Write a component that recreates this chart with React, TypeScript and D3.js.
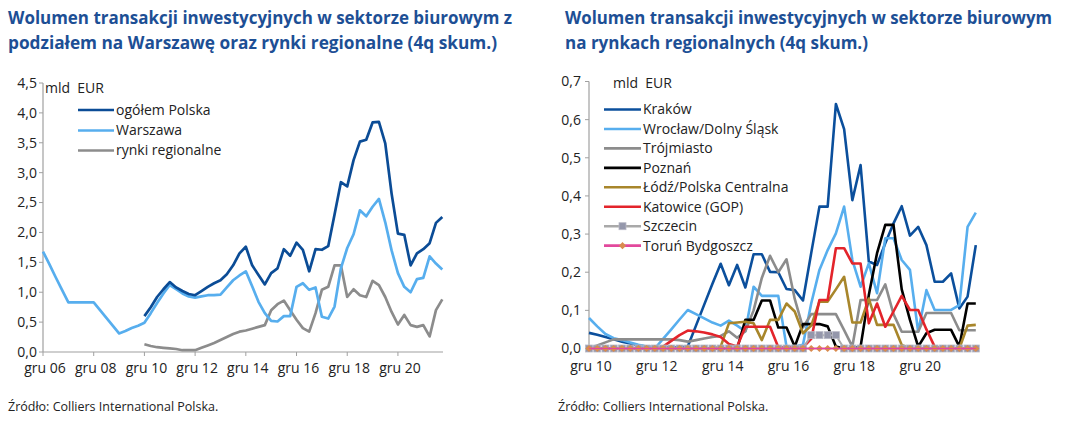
import React from "react";
import * as d3 from "d3";

// ---------- DATA ----------
const quarters = [
  "2006Q4",
  "2007Q1","2007Q2","2007Q3","2007Q4",
  "2008Q1","2008Q2","2008Q3","2008Q4",
  "2009Q1","2009Q2","2009Q3","2009Q4",
  "2010Q1","2010Q2","2010Q3","2010Q4",
  "2011Q1","2011Q2","2011Q3","2011Q4",
  "2012Q1","2012Q2","2012Q3","2012Q4",
  "2013Q1","2013Q2","2013Q3","2013Q4",
  "2014Q1","2014Q2","2014Q3","2014Q4",
  "2015Q1","2015Q2","2015Q3","2015Q4",
  "2016Q1","2016Q2","2016Q3","2016Q4",
  "2017Q1","2017Q2","2017Q3","2017Q4",
  "2018Q1","2018Q2","2018Q3","2018Q4",
  "2019Q1","2019Q2","2019Q3","2019Q4",
  "2020Q1","2020Q2","2020Q3","2020Q4",
  "2021Q1","2021Q2","2021Q3","2021Q4",
  "2022Q1","2022Q2","2022Q3",
];
const regionalQuarters = quarters.slice(16);

const leftTickQuarters = ["2006Q4","2008Q4","2010Q4","2012Q4","2014Q4","2016Q4","2018Q4","2020Q4"];
const leftTickLabels = ["gru 06","gru 08","gru 10","gru 12","gru 14","gru 16","gru 18","gru 20"];
const rightTickQuarters = ["2010Q4","2012Q4","2014Q4","2016Q4","2018Q4","2020Q4"];
const rightTickLabels = ["gru 10","gru 12","gru 14","gru 16","gru 18","gru 20"];
const leftYTicks = [0, 0.5, 1, 1.5, 2, 2.5, 3, 3.5, 4, 4.5];
const rightYTicks = [0, 0.1, 0.2, 0.3, 0.4, 0.5, 0.6, 0.7];

const N = null;
const polska = [
  N,N,N,N,N,N,N,N,N,N,N,N,N,N,N,N,
  0.60,0.75,0.92,1.05,1.17,1.08,1.02,0.97,0.95,1.02,1.09,1.15,1.20,1.30,1.45,1.65,
  1.76,1.45,1.29,1.13,1.32,1.40,1.72,1.61,1.83,1.71,1.35,1.72,1.71,1.77,2.30,2.84,
  2.77,3.21,3.52,3.55,3.84,3.85,3.49,2.65,1.98,1.96,1.45,1.65,1.72,1.82,2.16,2.26,
];
const warszawa = [
  1.68,1.47,1.25,1.04,0.83,0.83,0.83,0.83,0.83,0.70,0.57,0.44,0.31,0.35,0.40,0.44,
  0.49,0.65,0.82,0.98,1.12,1.05,0.98,0.93,0.91,0.93,0.95,0.95,0.96,1.08,1.20,1.28,
  1.35,1.10,0.84,0.65,0.52,0.51,0.60,0.60,1.09,1.15,1.04,1.08,0.59,0.56,0.76,1.40,
  1.74,1.97,2.37,2.27,2.43,2.56,2.17,1.70,1.32,1.09,1.00,1.22,1.24,1.60,1.48,1.38,
];
const regionalne = [
  N,N,N,N,N,N,N,N,N,N,N,N,N,N,N,N,
  0.13,0.10,0.08,0.07,0.06,0.05,0.03,0.03,0.03,0.07,0.11,0.15,0.20,0.25,0.30,0.34,
  0.36,0.39,0.42,0.45,0.70,0.80,0.86,0.70,0.54,0.40,0.34,0.65,1.04,1.09,1.45,1.45,
  0.92,1.05,0.95,0.92,1.19,1.12,0.92,0.67,0.46,0.62,0.45,0.42,0.45,0.26,0.70,0.88,
];

const krakow = [
  0.041,0.036,0.030,0.024,0.018,0.013,0.008,0.005,0.003,0.003,0.003,0.003,0.005,0.060,0.115,0.170,
  0.222,0.166,0.219,0.160,0.247,0.247,0.201,0.200,0.156,0.153,0.126,0.250,0.372,0.372,0.641,0.575,
  0.389,0.481,0.228,0.219,0.276,0.328,0.373,0.296,0.319,0.271,0.175,0.175,0.197,0.105,0.136,0.271,
];
const wroclaw = [
  0.080,0.058,0.038,0.027,0.022,0.016,0.010,0.005,0.000,0.025,0.050,0.076,0.101,0.090,0.079,0.068,
  0.060,0.073,0.060,0.045,0.162,0.138,0.138,0.138,0.005,0.005,0.010,0.118,0.206,0.258,0.302,0.372,
  0.232,0.162,0.223,0.145,0.289,0.289,0.232,0.206,0.044,0.153,0.101,0.101,0.101,0.114,0.319,0.356,
];
const trojmiasto = [
  0.000,0.008,0.016,0.024,0.024,0.024,0.024,0.024,0.024,0.024,0.024,0.022,0.018,0.022,0.026,0.030,
  0.033,0.045,0.028,0.045,0.100,0.185,0.243,0.200,0.234,0.130,0.055,0.090,0.090,0.090,0.090,0.048,
  0.005,0.127,0.127,0.127,0.168,0.090,0.044,0.044,0.044,0.093,0.093,0.093,0.093,0.048,0.048,0.048,
];
const poznan = [
  0,0,0,0,0,0,0,0,0,0,0,0,0,0,0,0,
  0,0,0,0.075,0.075,0.126,0.126,0.055,0.055,0.005,0.064,0.064,0.064,0.058,0.005,0,
  0,0.005,0.140,0.250,0.324,0.324,0.155,0.075,0.005,0.040,0.049,0.049,0.049,0.005,0.118,0.118,
];
const lodz = [
  0,0,0,0,0,0,0,0,0,0,0,0,0,0,0,0,
  0.005,0.066,0.068,0.070,0.066,0.022,0.075,0.075,0.118,0.097,0.040,0.060,0.123,0.123,0.155,0.188,
  0.068,0.068,0.131,0.062,0.062,0.062,0.009,0,0,0,0,0,0,0,0.060,0.062,
];
const katowice = [
  0,0,0,0,0,0,0,0,0,0.005,0.020,0.035,0.047,0.045,0.042,0.037,
  0.030,0.012,0.005,0.057,0.057,0.057,0.057,0.003,0.003,0.003,0.003,0.025,0.127,0.127,0.263,0.263,
  0.223,0.223,0.066,0.118,0.057,0.097,0.138,0.101,0.101,0.050,0.005,0,0,0,0,0,
];
const szczecin = [
  0,0,0,0,0,0,0,0,0,0,0,0,0,0,0,0,
  0,0,0,0,0,0,0,0,0,0,0,0.035,0.035,0.035,0.035,0,
  0,0,0,0,0,0,0,0,0,0,0,0,0,0,0,0,
];
const torun = [
  0,0,0,0,0,0,0,0,0,0,0,0,0,0,0,0,
  0,0,0,0,0,0,0,0,0,0,0,0,0,0,0,0,
  0,0,0,0,0,0,0,0,0,0,0,0,0,0,0,0,
];

const leftSeries = [
  { name: "ogółem Polska", values: polska, color: "#0b4c96" },
  { name: "Warszawa", values: warszawa, color: "#57aeee" },
  { name: "rynki regionalne", values: regionalne, color: "#8c8c8c" },
];
const rightSeries = [
  { name: "Kraków", values: krakow, color: "#0b4f9c", marker: "" },
  { name: "Wrocław/Dolny Śląsk", values: wroclaw, color: "#57aeee", marker: "" },
  { name: "Trójmiasto", values: trojmiasto, color: "#8c8c8c", marker: "" },
  { name: "Poznań", values: poznan, color: "#000000", marker: "" },
  { name: "Łódź/Polska Centralna", values: lodz, color: "#a8862b", marker: "" },
  { name: "Katowice (GOP)", values: katowice, color: "#e3242b", marker: "" },
  { name: "Szczecin", values: szczecin, color: "#a9a9a9", marker: "square" },
  { name: "Toruń Bydgoszcz", values: torun, color: "#e2489c", marker: "diamond" },
];

// ---------- STYLE ----------
const FONT = "'Open Sans', 'Noto Sans', sans-serif";
const TITLE_COLOR = "#1d4f95";
const AXIS_COLOR = "#a0a0a0";
const TEXT_COLOR = "#222";
const TICK_FS = 14;
const LEG_FS = 14;
const fmt = (v: number) => d3.format(".1f")(v).replace(".", ",");

function Square({ x, y }: { x: number; y: number }) {
  return <rect x={x - 3.5} y={y - 3.5} width={7} height={7} fill="#9497ab" stroke="#b9bac6" strokeWidth={0.8} />;
}
function Diamond({ x, y }: { x: number; y: number }) {
  const s = 3.6;
  return <path d={`M${x},${y - s}L${x + s},${y}L${x},${y + s}L${x - s},${y}Z`} fill="#d98b4f" />;
}

export default function App() {
  // left chart
  const xL = d3.scalePoint<string>().domain(quarters).range([43, 442.3]);
  const yL = d3.scaleLinear().domain([0, 4.5]).range([352, 83]);
  const lineL = d3
    .line<number | null>()
    .defined((d) => d != null)
    .x((_, i) => xL(quarters[i]) as number)
    .y((d) => yL(d as number));

  // right chart
  const xR = d3.scalePoint<string>().domain(regionalQuarters).range([589, 975.8]);
  const yR = d3.scaleLinear().domain([0, 0.7]).range([348.5, 81.5]);
  const lineR = d3
    .line<number>()
    .x((_, i) => xR(regionalQuarters[i]) as number)
    .y((d) => yR(d));

  const legendL = [110, 130.5, 150.5];
  const legendRy = (k: number) => 109.5 + k * 19.45;

  return (
    <svg
      width={1074}
      height={423}
      style={{ position: "absolute", left: 0, top: 0, background: "#fff" }}
      fontFamily={FONT}
    >
      <rect width={1074} height={423} fill="#fff" />
      {/* Titles */}
      <g fill={TITLE_COLOR} fontSize={17.5} fontWeight={700}>
        <text x={8} y={24} textLength={504} lengthAdjust="spacingAndGlyphs">
          Wolumen transakcji inwestycyjnych w sektorze biurowym z
        </text>
        <text x={8} y={49} textLength={489} lengthAdjust="spacingAndGlyphs">
          podziałem na Warszawę oraz rynki regionalne (4q skum.)
        </text>
        <text x={565} y={24} textLength={487} lengthAdjust="spacingAndGlyphs">
          Wolumen transakcji inwestycyjnych w sektorze biurowym
        </text>
        <text x={565} y={49} textLength={303} lengthAdjust="spacingAndGlyphs">
          na rynkach regionalnych (4q skum.)
        </text>
      </g>

      {/* ---------- LEFT CHART ---------- */}
      <g>
        <line x1={43} x2={43} y1={yL(4.5)} y2={yL(0)} stroke={AXIS_COLOR} strokeWidth={1.2} />
        <line x1={43} x2={443} y1={yL(0)} y2={yL(0)} stroke={AXIS_COLOR} strokeWidth={1.2} />
        {leftYTicks.map((t) => (
          <g key={t}>
            <line x1={39} x2={43} y1={yL(t)} y2={yL(t)} stroke={AXIS_COLOR} strokeWidth={1} />
            <text x={37} y={yL(t)} dy="0.35em" textAnchor="end" fontSize={TICK_FS} fill={TEXT_COLOR}>
              {fmt(t)}
            </text>
          </g>
        ))}
        {leftTickQuarters.map((q, i) => (
          <g key={q}>
            <line x1={xL(q)} x2={xL(q)} y1={yL(0)} y2={yL(0) + 4} stroke={AXIS_COLOR} strokeWidth={1} />
            <text x={(xL(q) as number) + 2} y={373} textAnchor="middle" fontSize={TICK_FS} fill={TEXT_COLOR}>
              {leftTickLabels[i]}
            </text>
          </g>
        ))}
        <text x={45} y={93} fontSize={LEG_FS} fill={TEXT_COLOR}>
          mld{"\u00a0\u00a0"}EUR
        </text>
        {[...leftSeries].reverse().map((s) => (
          <path key={s.name} d={lineL(s.values) || ""} fill="none" stroke={s.color} strokeWidth={2.7} strokeLinejoin="round" />
        ))}
        {leftSeries.map((s, k) => (
          <g key={s.name}>
            <line x1={78} x2={114} y1={legendL[k]} y2={legendL[k]} stroke={s.color} strokeWidth={2.7} />
            <text x={116} y={legendL[k]} dy="0.35em" fontSize={LEG_FS} fill={TEXT_COLOR}>
              {s.name}
            </text>
          </g>
        ))}
      </g>

      {/* ---------- RIGHT CHART ---------- */}
      <g>
        <line x1={589} x2={589} y1={yR(0.7)} y2={yR(0)} stroke={AXIS_COLOR} strokeWidth={1.2} />
        <line x1={589} x2={979} y1={yR(0)} y2={yR(0)} stroke={AXIS_COLOR} strokeWidth={1.2} />
        {rightYTicks.map((t) => (
          <g key={t}>
            <line x1={585} x2={589} y1={yR(t)} y2={yR(t)} stroke={AXIS_COLOR} strokeWidth={1} />
            <text x={581} y={yR(t)} dy="0.35em" textAnchor="end" fontSize={TICK_FS} fill={TEXT_COLOR}>
              {fmt(t)}
            </text>
          </g>
        ))}
        {rightTickQuarters.map((q, i) => (
          <text key={q} x={(xR(q) as number) + 2} y={371} textAnchor="middle" fontSize={TICK_FS} fill={TEXT_COLOR}>
            {rightTickLabels[i]}
          </text>
        ))}
        <text x={613} y={88} fontSize={LEG_FS} fill={TEXT_COLOR}>
          mld{"\u00a0\u00a0"}EUR
        </text>
        {rightSeries.map((s) => (
          <g key={s.name}>
            <path d={lineR(s.values) || ""} fill="none" stroke={s.color} strokeWidth={s.marker ? 2 : 2.6} strokeLinejoin="round" />
            {s.marker === "square" &&
              s.values.map((v, i) => <Square key={i} x={xR(regionalQuarters[i]) as number} y={yR(v)} />)}
            {s.marker === "diamond" &&
              s.values.map((v, i) => <Diamond key={i} x={xR(regionalQuarters[i]) as number} y={yR(v)} />)}
            {s.marker === "diamond" && (
              <path d={lineR(s.values) || ""} fill="none" stroke={s.color} strokeWidth={1.2} />
            )}
          </g>
        ))}
        {rightSeries.map((s, k) => (
          <g key={s.name}>
            <line x1={604} x2={641} y1={legendRy(k)} y2={legendRy(k)} stroke={s.color} strokeWidth={2.6} />
            {s.marker === "square" && <Square x={622.5} y={legendRy(k)} />}
            {s.marker === "diamond" && <Diamond x={622.5} y={legendRy(k)} />}
            <text x={643} y={legendRy(k)} dy="0.35em" fontSize={LEG_FS} fill={TEXT_COLOR}>
              {s.name}
            </text>
          </g>
        ))}
      </g>

      {/* Footnotes */}
      <text x={8} y={411} fontSize={12.5} fill={TEXT_COLOR}>
        Źródło: Colliers International Polska.
      </text>
      <text x={558} y={411} fontSize={12.5} fill={TEXT_COLOR}>
        Źródło: Colliers International Polska.
      </text>
    </svg>
  );
}
